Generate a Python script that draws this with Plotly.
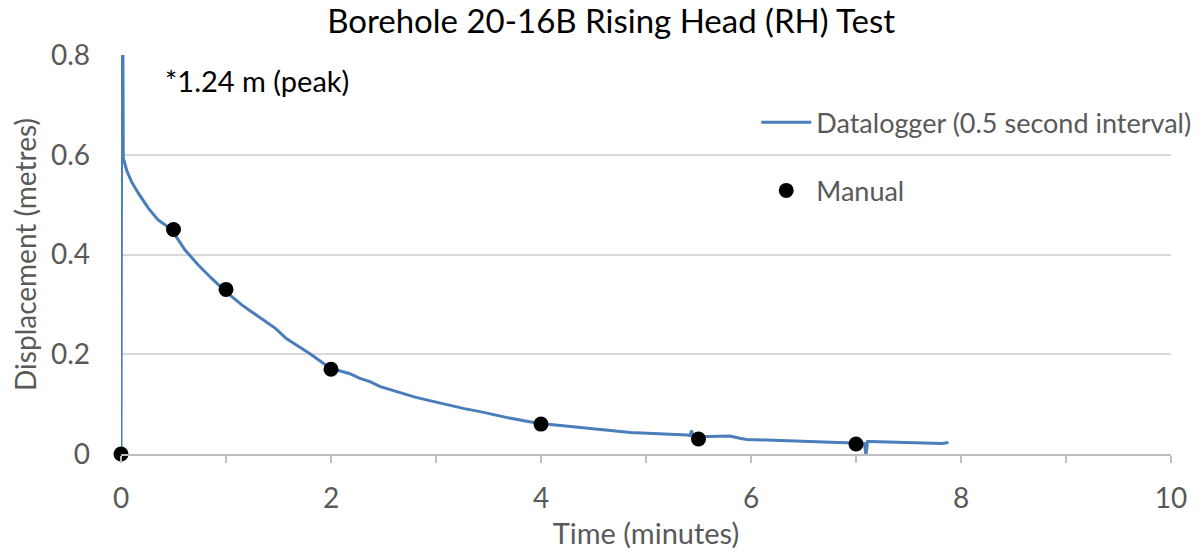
import plotly.graph_objects as go

# Datalogger record (time in minutes, displacement in metres)
logger_time = [0.0, 0.01, 0.022, 0.054, 0.10, 0.165, 0.26, 0.355, 0.43, 0.50, 0.61,
               0.736, 0.864, 0.99, 1.15, 1.31, 1.47, 1.578, 1.69, 1.80, 1.90, 1.99,
               2.08, 2.18, 2.27, 2.37, 2.47, 2.56, 2.66, 2.80, 2.94, 3.04, 3.13,
               3.27, 3.42, 3.56, 3.70, 3.85, 3.99, 4.14, 4.28, 4.42, 4.56, 4.70,
               4.85, 5.07, 5.23, 5.39, 5.42, 5.435, 5.45, 5.50, 5.60, 5.70, 5.80,
               5.88, 5.96, 6.15, 6.34, 6.50, 6.66, 6.83, 7.00, 7.08, 7.095, 7.11,
               7.13, 7.30, 7.45, 7.60, 7.74, 7.82, 7.88]
logger_disp = [0.0, 1.24, 0.593, 0.569, 0.546, 0.523, 0.493, 0.469, 0.458, 0.444, 0.409,
               0.379, 0.352, 0.327, 0.299, 0.275, 0.252, 0.231, 0.216, 0.201, 0.186, 0.172,
               0.167, 0.161, 0.152, 0.145, 0.135, 0.129, 0.122, 0.114, 0.107, 0.102, 0.098,
               0.091, 0.085, 0.078, 0.072, 0.066, 0.061, 0.058, 0.055, 0.051, 0.049, 0.046,
               0.043, 0.041, 0.040, 0.038, 0.037, 0.047, 0.036, 0.035, 0.035, 0.035, 0.036,
               0.032, 0.029, 0.028, 0.027, 0.025, 0.024, 0.023, 0.022, 0.021, -0.002, 0.025,
               0.025, 0.024, 0.023, 0.022, 0.020, 0.021, 0.023]

# Manual water level readings
manual_time = [0, 0.5, 1, 2, 4, 5.5, 7]
manual_disp = [0, 0.45, 0.33, 0.17, 0.06, 0.03, 0.02]

peak_label = "*1.24 m (peak)"
FONT = "Lato"
GREY = "#595959"

fig = go.Figure()
fig.add_trace(go.Scatter(
    x=logger_time, y=logger_disp, mode="lines",
    name="Datalogger (0.5 second interval)",
    line=dict(color="#4A7EBB", width=3),
    legendgroup="a",
))
fig.add_trace(go.Scatter(
    x=manual_time, y=manual_disp, mode="markers",
    name="Manual",
    marker=dict(color="black", size=15),
    cliponaxis=False,
    legendgroup="b",
))

fig.add_annotation(
    x=0.04, y=0.935, xref="paper", yref="paper",
    text=peak_label, showarrow=False, xanchor="left", yanchor="middle",
    font=dict(family=FONT, size=29, color="black"),
)

fig.update_layout(
    width=1203, height=558,
    margin=dict(l=121, r=32, t=55, b=104, autoexpand=False),
    paper_bgcolor="white", plot_bgcolor="white",
    title=dict(text="Borehole 20-16B Rising Head (RH) Test",
               x=0.508, xanchor="center", y=0.962, yanchor="middle",
               font=dict(family=FONT, size=33, color="black")),
    font=dict(family=FONT, color=GREY),
    showlegend=True,
    legend=dict(x=0.605, y=0.745, xanchor="left", yanchor="middle",
                bgcolor="rgba(0,0,0,0)", font=dict(family=FONT, size=27, color=GREY),
                tracegroupgap=30, itemwidth=50),
    xaxis=dict(
        range=[0, 10], dtick=2, tick0=0,
        showgrid=False, zeroline=False,
        showline=True, linecolor="#BFBFBF", linewidth=1.5,
        ticks="outside", ticklen=7, tickcolor="#BFBFBF", tickwidth=1.5,
        minor=dict(dtick=1, ticks="outside", ticklen=7, tickcolor="#BFBFBF", tickwidth=1.5),
        tickfont=dict(family=FONT, size=28, color=GREY),
        ticklabelstandoff=12,
        title=dict(text="Time (minutes)", font=dict(family=FONT, size=29, color=GREY), standoff=10),
    ),
    yaxis=dict(
        range=[0, 0.8], dtick=0.2, tickformat="~g",
        showgrid=True, gridcolor="#D9D9D9", gridwidth=1.5,
        zeroline=False, showline=False,
        tickfont=dict(family=FONT, size=28, color=GREY),
        ticks="", ticklabelstandoff=30,
        title=dict(text="Displacement (metres)", font=dict(family=FONT, size=28, color=GREY), standoff=6),
    ),
)

fig.write_html("out.html")
